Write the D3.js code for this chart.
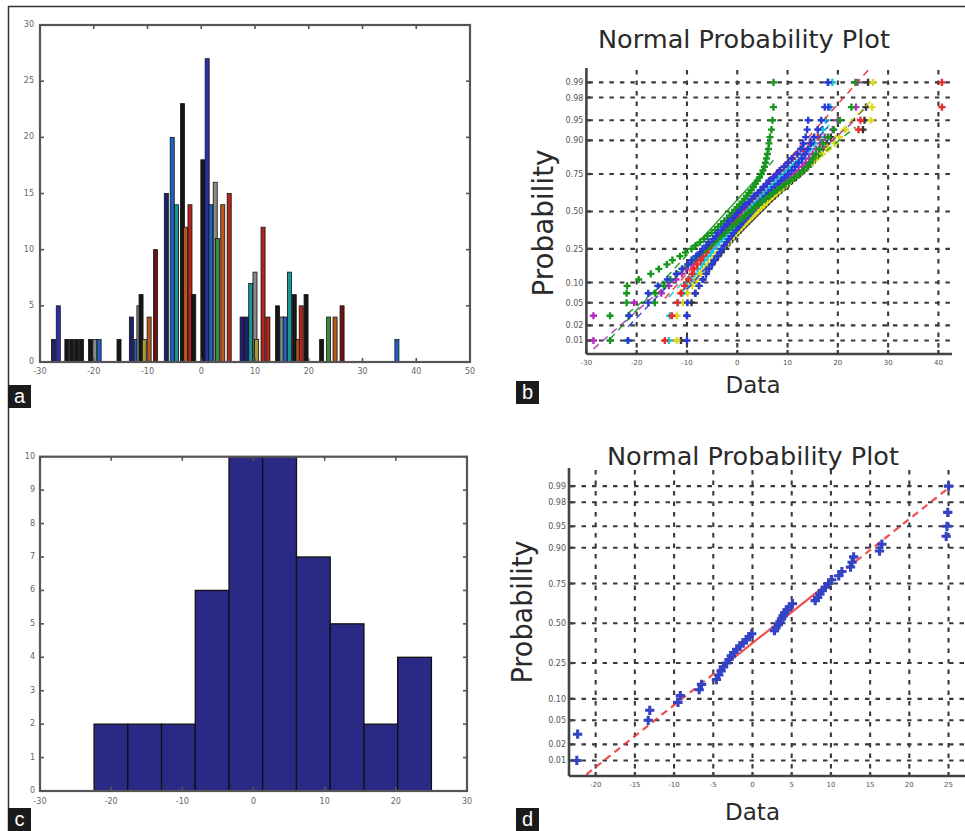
<!DOCTYPE html>
<html>
<head>
<meta charset="utf-8">
<script src="https://cdn.jsdelivr.net/npm/d3@7"></script>
<style>
  body { margin: 0; background: #fff; }
  svg { display: block; }
</style>
</head>
<body>
<svg id="fig" width="965" height="831"></svg>
<script>
// ---------------- data ----------------

// Panel a: overlaid histogram bars (bar centre, count, sample they belong to)
const aBarX = [-27.5, -26.6, -25.0, -24.1, -23.2, -22.3,
               -20.6, -19.8, -19.0, -15.3,
               -13.0, -12.1, -11.6, -11.2, -10.6, -9.7, -8.5,
               -6.5, -5.4, -4.6, -3.5, -2.9, -2.1, -1.4,
               0.3, 1.1, 1.8, 2.6, 3.0, 4.0, 5.2,
               7.6, 8.4, 9.2, 10.0, 10.3, 11.5, 12.4,
               14.2, 15.0, 15.6, 16.4, 17.3, 18.0, 18.6, 19.5,
               22.4, 23.7, 24.9, 26.2,
               36.4];
const aBarCount = [2, 5, 2, 2, 2, 2,
                   2, 2, 2, 2,
                   4, 2, 5, 6, 2, 4, 10,
                   15, 20, 14, 23, 12, 14, 6,
                   18, 27, 14, 16, 11, 14, 15,
                   4, 4, 7, 8, 2, 12, 4,
                   5, 4, 4, 8, 6, 2, 5, 6,
                   2, 4, 4, 5,
                   2];
const aBarSeries = ["navy", "blue", "black", "black", "black", "black",
                    "black", "gray", "azure", "black",
                    "navy", "azure", "gray", "black", "olive", "orange", "darkred",
                    "navy", "azure", "teal", "black", "orange", "red", "black",
                    "black", "blue", "azure", "gray", "green", "orange", "red",
                    "navy", "navy", "teal", "gray", "olive", "red", "red",
                    "black", "gray", "azure", "teal", "black", "orange", "red", "black",
                    "black", "green", "orange", "darkred",
                    "azure"];
const aXTicks = [-30, -20, -10, 0, 10, 20, 30, 40, 50];
const aYTicks = [0, 5, 10, 15, 20, 25, 30];

// Panel b: nine samples, each of 50 observations
const bSeriesKeys = ["black", "yellow", "magenta", "cyan", "red", "blue2", "green2", "green", "blue"];
const bBlack = [-11.2,-10.0,-9.1,-8.3,-7.6,-6.9,-6.2,-5.6,-5.0,-4.4,-3.8,-3.2,-2.7,-2.1,-1.6,-1.0,-0.5,0.0,0.6,1.1,1.7,2.2,2.8,3.3,3.9,4.5,5.0,5.6,6.2,6.8,7.5,8.1,8.8,9.5,10.2,10.9,11.7,12.5,13.3,14.1,14.9,15.6,16.3,17.0,17.8,18.6,25.0,25.3,25.6,26.0];
const bYellow = [-12.0,-12.0,-10.8,-9.9,-9.0,-8.1,-7.3,-6.4,-5.9,-5.1,-4.4,-3.7,-3.1,-2.5,-1.8,-1.3,-0.7,-0.2,0.3,0.9,1.4,1.9,2.5,3.0,3.6,4.1,4.7,5.3,5.9,6.5,7.1,7.8,8.5,9.2,9.9,10.6,11.4,12.2,13.0,13.9,14.8,15.8,16.9,18.1,19.4,20.3,21.5,26.6,26.8,27.0];
const bMagenta = [-28.6,-28.6,-20.5,-15.1,-13.6,-12.2,-11.0,-10.2,-9.1,-8.4,-7.5,-6.8,-6.0,-5.3,-4.5,-3.9,-3.1,-2.4,-1.8,-1.1,-0.4,0.2,0.9,1.6,2.2,2.9,3.6,4.2,4.9,5.6,6.3,7.0,7.7,8.4,9.2,9.9,10.6,11.4,12.2,12.9,13.6,14.3,15.0,15.7,16.5,17.4,19.0,20.0,23.6,23.9];
const bCyan = [-13.6,-13.4,-11.8,-10.9,-10.1,-9.3,-8.6,-7.9,-7.1,-6.6,-5.9,-5.3,-4.8,-4.2,-3.7,-3.0,-2.6,-2.0,-1.5,-1.0,-0.4,0.1,0.5,1.1,1.6,2.1,2.7,3.2,3.8,4.3,4.9,5.5,6.1,6.7,7.3,8.0,8.7,9.4,10.2,11.0,11.8,12.7,13.5,14.4,15.3,16.4,17.0,17.6,18.5,18.9];
const bRed = [-14.4,-13.0,-11.9,-11.2,-10.5,-9.7,-9.0,-8.6,-8.0,-7.3,-6.9,-6.2,-5.8,-5.1,-4.7,-4.0,-3.6,-3.1,-2.5,-2.1,-1.6,-1.0,-0.6,0.0,0.4,0.9,1.5,1.9,2.5,3.0,3.6,4.1,4.7,5.3,5.8,6.5,7.1,7.8,8.6,9.3,10.1,11.0,12.0,13.1,14.4,16.0,24.1,24.5,40.7,40.7];
const bBlue2 = [-10.0,-10.0,-9.9,-8.4,-7.6,-6.8,-6.2,-5.7,-5.1,-4.6,-4.0,-3.5,-3.1,-2.6,-2.1,-1.7,-1.2,-0.8,-0.3,0.2,0.6,1.1,1.6,2.1,2.5,3.0,3.5,4.0,4.6,5.1,5.7,6.2,6.8,7.4,8.1,8.7,9.4,10.1,10.8,11.5,12.2,12.9,13.5,14.0,14.6,15.3,16.0,16.7,17.4,18.0];
const bGreen2 = [-21.8,-21.6,-16.4,-16.3,-14.6,-13.3,-12.1,-10.9,-9.8,-8.9,-8.0,-7.1,-6.3,-5.5,-4.7,-4.0,-3.2,-2.5,-1.8,-1.1,-0.4,0.3,1.0,1.6,2.2,2.9,3.5,4.2,4.9,5.6,6.4,7.1,7.9,8.8,9.6,10.5,11.4,12.3,13.1,13.9,14.5,15.0,15.6,16.3,17.1,18.0,19.2,20.4,22.7,23.5];
const bGreen = [-25.3,-25.3,-22.0,-22.0,-21.9,-19.6,-17.2,-15.6,-14.0,-12.9,-11.4,-10.3,-9.1,-8.3,-7.4,-6.6,-5.9,-5.1,-4.4,-3.8,-3.2,-2.6,-2.0,-1.5,-1.0,-0.5,0.0,0.5,1.0,1.4,1.9,2.3,2.8,3.2,3.6,4.0,4.4,4.8,5.1,5.4,5.6,5.8,6.0,6.2,6.3,6.5,6.8,7.0,7.2,7.2];
const bBlue = [-21.7,-21.5,-17.7,-17.7,-15.8,-13.9,-12.1,-11.0,-9.8,-9.1,-8.2,-7.4,-6.9,-6.1,-5.7,-4.8,-4.2,-3.9,-3.1,-2.6,-2.0,-1.7,-0.9,-0.4,0.1,0.6,1.3,1.6,2.4,2.9,3.3,4.1,4.6,5.2,5.9,6.3,7.2,7.9,8.4,9.3,10.1,10.8,11.9,12.6,13.1,13.6,13.9,14.1,18.1,18.1];
const bXTicks = [-30, -20, -10, 0, 10, 20, 30, 40];

// Probability axis ticks shared by panels b and d
const probTicks = [0.01, 0.02, 0.05, 0.10, 0.25, 0.50, 0.75, 0.90, 0.95, 0.98, 0.99];
const probTickLabels = ["0.01", "0.02", "0.05", "0.10", "0.25", "0.50", "0.75", "0.90", "0.95", "0.98", "0.99"];

// Panels c and d: one sample of 50 observations
const dSample = [-22.4,-22.3,-13.3,-13.1,-9.5,-9.2,-6.8,-6.5,-4.6,-4.3,-4.0,-3.7,-3.3,-3.0,-2.7,-2.4,-2.0,-1.6,-1.2,-0.8,-0.4,-0.1,2.8,3.0,3.3,3.5,3.7,3.9,4.1,4.4,4.7,5.1,8.0,8.3,8.6,8.9,9.3,9.7,10.1,11.0,11.4,12.5,12.7,12.9,16.2,16.5,24.7,24.8,24.9,25.0];
const cBinCount = 10;
const cXTicks = [-30, -20, -10, 0, 10, 20, 30];
const cYTicks = [0, 1, 2, 3, 4, 5, 6, 7, 8, 9, 10];
const dXTicks = [-20, -15, -10, -5, 0, 5, 10, 15, 20, 25];

// ---------------- styles ----------------
const barPalette = {
  navy: "#1f1f6e", blue: "#2d2fa6", azure: "#1f63bf", teal: "#179797",
  green: "#3b8b3e", olive: "#a69a34", orange: "#b8581d", red: "#b3241d",
  darkred: "#6c1410", black: "#161616", gray: "#8a8a8a"
};
const probPalette = {
  blue: "#2a3ad6", blue2: "#2a3ad6", green: "#16961c", green2: "#16961c",
  red: "#ee2a2a", cyan: "#19c3d3", magenta: "#b52dbf", yellow: "#dcdc1c", black: "#333333"
};
const bSamples = {
  black: bBlack, yellow: bYellow, magenta: bMagenta, cyan: bCyan, red: bRed,
  blue2: bBlue2, green2: bGreen2, green: bGreen, blue: bBlue
};

const FONT = "DejaVu Sans, Verdana, sans-serif";
const frameColor = "#555";
const svg = d3.select("#fig");

// inverse of the standard normal CDF (Acklam's rational approximation)
function norminv(p) {
  const a = [-3.969683028665376e+01, 2.209460984245205e+02, -2.759285104469687e+02, 1.383577518672690e+02, -3.066479806614716e+01, 2.506628277459239e+00];
  const b = [-5.447609879822406e+01, 1.615858368580409e+02, -1.556989798598866e+02, 6.680131188771972e+01, -1.328068155288572e+01];
  const c = [-7.784894002430293e-03, -3.223964580411365e-01, -2.400758277161838e+00, -2.549732539343734e+00, 4.374664141464968e+00, 2.938163982698783e+00];
  const d = [7.784695709041462e-03, 3.224671290700398e-01, 2.445134137142996e+00, 3.754408661907416e+00];
  const pl = 0.02425, ph = 1 - pl;
  let q, r;
  if (p < pl) {
    q = Math.sqrt(-2 * Math.log(p));
    return (((((c[0]*q+c[1])*q+c[2])*q+c[3])*q+c[4])*q+c[5]) / ((((d[0]*q+d[1])*q+d[2])*q+d[3])*q+1);
  }
  if (p <= ph) {
    q = p - 0.5; r = q * q;
    return (((((a[0]*r+a[1])*r+a[2])*r+a[3])*r+a[4])*r+a[5])*q / (((((b[0]*r+b[1])*r+b[2])*r+b[3])*r+b[4])*r+1);
  }
  q = Math.sqrt(-2 * Math.log(1 - p));
  return -(((((c[0]*q+c[1])*q+c[2])*q+c[3])*q+c[4])*q+c[5]) / ((((d[0]*q+d[1])*q+d[2])*q+d[3])*q+1);
}

// ---------------- figure frame and panel tags ----------------
svg.append("line").attr("x1", 8).attr("x2", 965).attr("y1", 6.5).attr("y2", 6.5)
  .attr("stroke", "#333").attr("stroke-width", 1.5);
svg.append("line").attr("x1", 8.5).attr("x2", 8.5).attr("y1", 6).attr("y2", 831)
  .attr("stroke", "#333").attr("stroke-width", 1.5);

function panelTag(x, y, letter) {
  svg.append("rect").attr("x", x).attr("y", y).attr("width", 23).attr("height", 23).attr("fill", "#1b1b1b");
  svg.append("text").attr("x", x + 11.5).attr("y", y + 17.5).attr("text-anchor", "middle")
    .attr("font-family", "Liberation Sans, Arial, sans-serif").attr("font-size", 20)
    .attr("fill", "#fff").text(letter);
}

// ---------------- boxed histogram axes (panels a and c) ----------------
function boxedAxes(g, x, y, xTicks, yTicks, labelY, labelX) {
  const [x0, x1] = x.range();
  const [y0, y1] = y.range(); // y0 bottom, y1 top
  const tl = 4;
  const ticks = g.append("g").attr("stroke", frameColor).attr("stroke-width", 1.6);
  xTicks.forEach(t => {
    ticks.append("line").attr("x1", x(t)).attr("x2", x(t)).attr("y1", y0).attr("y2", y0 - tl);
    ticks.append("line").attr("x1", x(t)).attr("x2", x(t)).attr("y1", y1).attr("y2", y1 + tl);
  });
  yTicks.forEach(t => {
    ticks.append("line").attr("x1", x0).attr("x2", x0 + tl).attr("y1", y(t)).attr("y2", y(t));
    ticks.append("line").attr("x1", x1).attr("x2", x1 - tl).attr("y1", y(t)).attr("y2", y(t));
  });
  g.append("rect").attr("x", x0).attr("y", y1).attr("width", x1 - x0).attr("height", y0 - y1)
    .attr("fill", "none").attr("stroke", frameColor).attr("stroke-width", 2.2);
  const lab = g.append("g").attr("font-family", FONT).attr("font-size", 8).attr("fill", "#666");
  xTicks.forEach(t => lab.append("text").attr("x", x(t)).attr("y", labelY).attr("text-anchor", "middle").text(t));
  yTicks.forEach(t => lab.append("text").attr("x", labelX).attr("y", y(t) + 2).attr("text-anchor", "end").text(t));
}

// ---------------- panel a ----------------
{
  const g = svg.append("g");
  const x = d3.scaleLinear().domain([-30, 50]).range([40, 470]);
  const y = d3.scaleLinear().domain([0, 30]).range([362, 25]);
  const bw = 0.75;
  const bars = aBarX.map((v, i) => ({ x: v, n: aBarCount[i], s: aBarSeries[i] }));
  g.append("g").selectAll("rect").data(bars).join("rect")
    .attr("x", d => x(d.x - bw / 2))
    .attr("width", x(bw) - x(0))
    .attr("y", d => y(d.n))
    .attr("height", d => y(0) - y(d.n))
    .attr("fill", d => barPalette[d.s])
    .attr("stroke", "#111").attr("stroke-width", 0.8);
  boxedAxes(g, x, y, aXTicks, aYTicks, 374, 34);
}
panelTag(8, 385, "a");

// ---------------- panel c ----------------
{
  const g = svg.append("g");
  const x = d3.scaleLinear().domain([-30, 30]).range([40, 467]);
  const y = d3.scaleLinear().domain([0, 10]).range([791, 456.7]);
  // equal-width bins spanning the sample range
  const lo = d3.min(dSample), hi = d3.max(dSample);
  const w = (hi - lo) / cBinCount;
  const counts = new Array(cBinCount).fill(0);
  dSample.forEach(v => { counts[Math.min(cBinCount - 1, Math.floor((v - lo) / w))] += 1; });
  const bins = counts.map((n, i) => ({ x0: lo + i * w, x1: lo + (i + 1) * w, n }));
  g.append("g").selectAll("rect").data(bins).join("rect")
    .attr("x", d => x(d.x0)).attr("width", d => x(d.x1) - x(d.x0))
    .attr("y", d => y(d.n)).attr("height", d => y(0) - y(d.n))
    .attr("fill", "#2a2a86").attr("stroke", "#111").attr("stroke-width", 1.3);
  boxedAxes(g, x, y, cXTicks, cYTicks, 804, 35);
}
panelTag(8, 808, "c");

// ---------------- normal probability plots (panels b and d) ----------------
function probPlot(cfg) {
  const g = svg.append("g");
  const x = d3.scaleLinear().domain(cfg.xDomain).range(cfg.xRange);
  const z = d3.scaleLinear().domain(cfg.zDomain).range(cfg.yRange);
  const [x0, x1] = cfg.xRange;
  const [yb, yt] = cfg.yRange;
  const clipId = "clip" + cfg.id;
  svg.append("clipPath").attr("id", clipId).append("rect")
    .attr("x", x0).attr("y", yt).attr("width", x1 - x0).attr("height", yb - yt);

  // dotted grid
  const grid = g.append("g").attr("stroke", "#3a3a3a").attr("stroke-width", 2.1)
    .attr("stroke-dasharray", "4.5 6");
  probTicks.forEach(p => grid.append("line")
    .attr("x1", x0 + 2).attr("x2", cfg.gridRight).attr("y1", z(norminv(p))).attr("y2", z(norminv(p))));
  cfg.xTicks.filter(t => x(t) > x0 + 3).forEach(t => grid.append("line")
    .attr("x1", x(t)).attr("x2", x(t)).attr("y1", yt).attr("y2", yb));

  // samples: points at plotting positions (i - 0.5)/n and a quartile reference line
  const plot = g.append("g").attr("clip-path", `url(#${clipId})`);
  cfg.series.forEach(s => {
    const vals = d3.sort(s.values);
    const n = vals.length;
    const q1 = d3.quantile(vals, 0.25), q3 = d3.quantile(vals, 0.75);
    const zq = norminv(0.75);
    const mu = (q1 + q3) / 2, sigma = (q3 - q1) / (2 * zq);
    const lo = vals[0], hi = vals[n - 1];
    const zOf = v => (v - mu) / sigma;
    const seg = (a, b, dash) => plot.append("line")
      .attr("x1", x(a)).attr("y1", z(zOf(a))).attr("x2", x(b)).attr("y2", z(zOf(b)))
      .attr("stroke", s.lineColor).attr("stroke-width", cfg.lineWidth)
      .attr("stroke-dasharray", dash).attr("stroke-opacity", 0.9);
    seg(lo, q1, "7 5");
    seg(q1, q3, null);
    seg(q3, hi, "7 5");
    plot.append("g").selectAll("path").data(vals.map((v, i) => ({ v, p: (i + 0.5) / n }))).join("path")
      .attr("d", d3.symbol(d3.symbolCross, cfg.markerSize))
      .attr("transform", d => `translate(${x(d.v)},${z(norminv(d.p))})`)
      .attr("fill", s.color);
  });

  // axes lines and ticks
  const ax = g.append("g").attr("stroke", "#444");
  ax.append("line").attr("x1", x0).attr("x2", x0).attr("y1", yt - 2).attr("y2", yb).attr("stroke-width", 2.6);
  ax.append("line").attr("x1", x0).attr("x2", cfg.gridRight).attr("y1", yb).attr("y2", yb).attr("stroke-width", 2.6);
  cfg.xTicks.forEach(t => ax.append("line").attr("x1", x(t)).attr("x2", x(t)).attr("y1", yb).attr("y2", yb - 4).attr("stroke-width", 2.4));
  probTicks.forEach(p => ax.append("line").attr("x1", x0).attr("x2", x0 + 4)
    .attr("y1", z(norminv(p))).attr("y2", z(norminv(p))).attr("stroke-width", 2.4));

  // tick labels
  const lab = g.append("g").attr("font-family", FONT).attr("fill", "#555");
  probTicks.forEach((p, i) => lab.append("text").attr("x", x0 - 3).attr("y", z(norminv(p)) + 3)
    .attr("text-anchor", "end").attr("font-size", 8).text(probTickLabels[i]));
  cfg.xTicks.forEach(t => lab.append("text").attr("x", x(t)).attr("y", yb + 11)
    .attr("text-anchor", "middle").attr("font-size", 7).text(t));

  // title and axis titles
  g.append("text").attr("x", cfg.title[0]).attr("y", cfg.title[1]).attr("text-anchor", "middle")
    .attr("font-family", FONT).attr("font-size", 25).attr("fill", "#2a2a2a")
    .attr("textLength", 292).attr("lengthAdjust", "spacingAndGlyphs").text("Normal Probability Plot");
  g.append("text").attr("transform", `translate(${cfg.ylab[0]},${cfg.ylab[1]}) rotate(-90)`)
    .attr("text-anchor", "middle").attr("font-family", FONT).attr("font-size", 28).attr("fill", "#2a2a2a")
    .attr("textLength", cfg.ylab[2]).attr("lengthAdjust", "spacingAndGlyphs").text("Probability");
  g.append("text").attr("x", cfg.xlab[0]).attr("y", cfg.xlab[1]).attr("text-anchor", "middle")
    .attr("font-family", FONT).attr("font-size", 23).attr("fill", "#2a2a2a")
    .attr("textLength", 55).attr("lengthAdjust", "spacingAndGlyphs").text("Data");
}

probPlot({
  id: "b",
  xDomain: [-30, 42.7], xRange: [586.4, 952],
  zDomain: [-2.57, 2.55], yRange: [354, 70],
  gridRight: 952,
  xTicks: bXTicks,
  series: bSeriesKeys.map(k => ({ values: bSamples[k], color: probPalette[k], lineColor: probPalette[k] })),
  markerSize: 28, lineWidth: 1.5,
  title: [744, 48], ylab: [553, 223, 147], xlab: [753, 393]
});
panelTag(516, 381, "b");

probPlot({
  id: "d",
  xDomain: [-23.4, 27.1], xRange: [569, 965],
  zDomain: [-2.59, 2.6], yRange: [776, 470],
  gridRight: 965,
  xTicks: dXTicks,
  series: [{ values: dSample, color: "#3443c4", lineColor: "#ee3b3b" }],
  markerSize: 48, lineWidth: 2.2,
  title: [753, 465], ylab: [532, 612, 143], xlab: [752.5, 820]
});
panelTag(516, 808, "d");
</script>
</body>
</html>
